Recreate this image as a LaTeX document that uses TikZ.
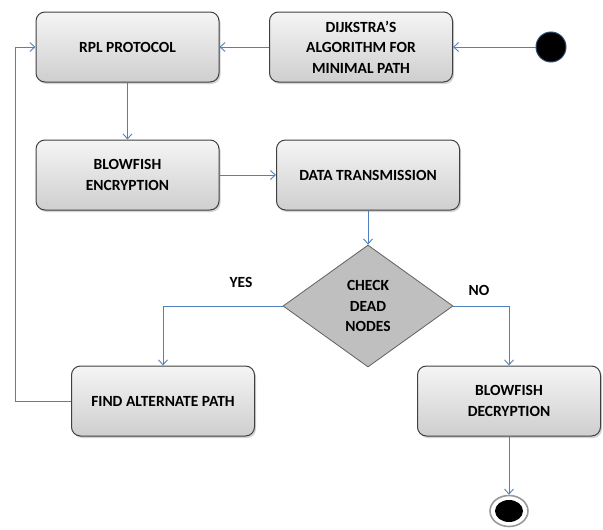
\documentclass[tikz,border=0pt]{standalone}
\usepackage{fontspec}
\setmainfont{Carlito}
\usetikzlibrary{shapes.geometric,arrows.meta,shadows}
\definecolor{linkblue}{RGB}{79,129,189}
\definecolor{boxedge}{RGB}{64,64,64}
\tikzset{
    stepbox/.style={draw=boxedge,line width=1pt,rounded corners=9pt,
        top color=gray!8,bottom color=gray!38,
        minimum width=183pt,minimum height=70pt,align=center,
        drop shadow={shadow xshift=1.5pt,shadow yshift=-2pt,opacity=0.35}},
    checkbox/.style={diamond,draw=gray!75!black,line width=0.8pt,fill=gray!50,
        minimum width=170pt,minimum height=122pt,inner sep=0pt,align=center},
    link/.style={draw=linkblue,line width=0.9pt,-{Straight Barb[length=5pt,width=9pt]}},
}
\begin{document}
\begin{tikzpicture}[x=1pt,y=-1pt,font=\fontsize{15.5}{20.5}\selectfont\bfseries]
    \useasboundingbox (0,0) rectangle (603,530);
        %% Top row
        \node[circle,fill=black,draw=linkblue!60!black,line width=1pt,minimum size=30pt,inner sep=0pt] (start) at (551,47) {};
        \node[stepbox] (dij) at (361,47) {DIJKSTRA’S\\ALGORITHM FOR\\MINIMAL PATH};
        \node[stepbox] (rpl) at (127.5,47) {RPL PROTOCOL};
            \draw[link] (start) -- (dij);
            \draw[link] (dij) -- (rpl);
        %% Second row
        \node[stepbox] (enc) at (127.5,175) {BLOWFISH\\ENCRYPTION};
        \node[stepbox] (data) at (368,175) {DATA TRANSMISSION};
            \draw[link] (rpl) -- (enc);
            \draw[link] (enc) -- (data);
        %% Decision
        \node[checkbox] (chk) at (368,306) {CHECK\\DEAD\\NODES};
            \draw[link] (data) -- (chk);
        \node (yes) at (241,282) {YES};
        \node (no) at (479,290) {NO};
        %% Bottom row
        \node[stepbox] (alt) at (163,401) {FIND ALTERNATE PATH};
        \node[stepbox] (dec) at (509,401) {BLOWFISH\\DECRYPTION};
            \draw[link] (chk.west) -| (alt.north);
            \draw[link] (chk.east) -| (dec.north);
        \coordinate (back) at (15,401);
            \draw[link] (alt.west) -- (back) |- (rpl.west);
        %% End state
        \node[ellipse,draw=gray!80,line width=1.6pt,fill=white,minimum width=38pt,minimum height=31pt,inner sep=0pt] (end) at (509,511) {};
            \fill (end.center) ellipse [x radius=14pt,y radius=11pt];
            \draw[link] (dec) -- (end);
    \end{tikzpicture}
\end{document}
